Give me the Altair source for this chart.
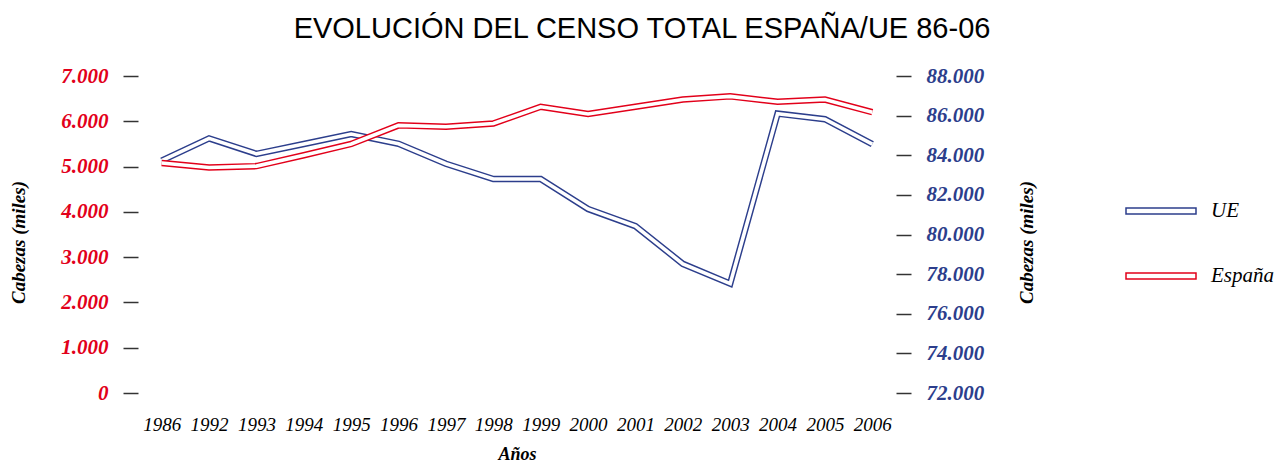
import altair as alt
import pandas as pd

years = ["1986", "1992", "1993", "1994", "1995", "1996", "1997", "1998",
         "1999", "2000", "2001", "2002", "2003", "2004", "2005", "2006"]
espana = [5080, 4980, 5010, 5250, 5500, 5910, 5880, 5950,
          6320, 6160, 6320, 6480, 6550, 6430, 6480, 6200]
ue = [83730, 84850, 84070, 84570, 85070, 84580, 83570, 82800,
      82800, 81290, 80420, 78520, 77520, 86100, 85820, 84560]

left_ticks = [0, 1000, 2000, 3000, 4000, 5000, 6000, 7000]
right_ticks = [72000, 74000, 76000, 78000, 80000, 82000, 84000, 86000, 88000]
series = ["UE", "España"]

RED = "#e2001a"
BLUE = "#2c3e8c"
SERIF = "Liberation Serif"

df = pd.DataFrame({"year": years, "espana": espana, "ue": ue})

label_expr = "replace(format(datum.value, ','), ',', '.')"

x_enc = alt.X(
    "year:O",
    scale=alt.Scale(type="point", padding=0.5),
    axis=alt.Axis(
        title="Años", labelAngle=0, ticks=False, domain=False, grid=False,
        labelFont=SERIF, labelFontStyle="italic", labelFontSize=19,
        labelColor="black", labelPadding=22,
        titleFont=SERIF, titleFontStyle="italic", titleFontWeight="bold",
        titleFontSize=18, titleColor="black", titlePadding=11,
    ),
)


def y_axis(orient, values, color, title_x):
    return alt.Axis(
        orient=orient, values=values, labelExpr=label_expr,
        domain=False, grid=False, tickSize=15, tickColor="#333333",
        tickWidth=1.5, labelPadding=15,
        labelFont=SERIF, labelFontStyle="italic", labelFontWeight="bold",
        labelFontSize=21, labelColor=color,
        title="Cabezas (miles)", titleFont=SERIF, titleFontStyle="italic",
        titleFontWeight="bold", titleFontSize=19, titleColor="black",
        titleAngle=270, titleX=title_x, titleY=166,
        titleAlign="center", titleBaseline="middle",
    )


color_enc = alt.Color(
    "serie:N",
    scale=alt.Scale(domain=series, range=[BLUE, RED]),
    legend=alt.Legend(
        title=None, orient="none", legendX=987, legendY=99,
        symbolType="M-1,-0.085L1,-0.085L1,0.085L-1,0.085Z",
        symbolSize=4900, symbolStrokeWidth=1.5, symbolFillColor="white",
        labelFont=SERIF, labelFontStyle="italic", labelFontSize=21,
        labelColor="black", labelOffset=14, rowPadding=19,
    ),
)

base = alt.Chart(df).encode(x=x_enc)

y_ue = alt.Y("ue:Q", scale=alt.Scale(domain=[72000, 88000], nice=False, zero=False),
             axis=y_axis("right", right_ticks, BLUE, 130))
y_es = alt.Y("espana:Q", scale=alt.Scale(domain=[0, 7000], nice=False),
             axis=y_axis("left", left_ticks, RED, -120))

ue_layer = alt.layer(
    base.mark_line(strokeWidth=6.5).encode(y=y_ue, color=color_enc)
    .transform_calculate(serie="'UE'"),
    base.mark_line(strokeWidth=3.6, color="white").encode(y=y_ue),
)
es_layer = alt.layer(
    base.mark_line(strokeWidth=6.5).encode(y=y_es, color=color_enc)
    .transform_calculate(serie="'España'"),
    base.mark_line(strokeWidth=3.6, color="white").encode(y=y_es),
)

chart = (
    alt.layer(ue_layer, es_layer)
    .resolve_scale(y="independent")
    .properties(
        width=758, height=317,
        autosize=alt.AutoSizeParams(type="none"),
        padding={"left": 130, "top": 68, "right": 379, "bottom": 69},
        title=alt.TitleParams(
            "EVOLUCIÓN DEL CENSO TOTAL ESPAÑA/UE 86-06",
            font="Liberation Sans", fontSize=29, fontWeight="normal",
            color="black", anchor="middle", frame="group", dx=125,
            offset=21,
        ),
    )
    .configure_view(stroke=None)
)

chart.save("out.html", embed_options={"renderer": "svg", "actions": False})
